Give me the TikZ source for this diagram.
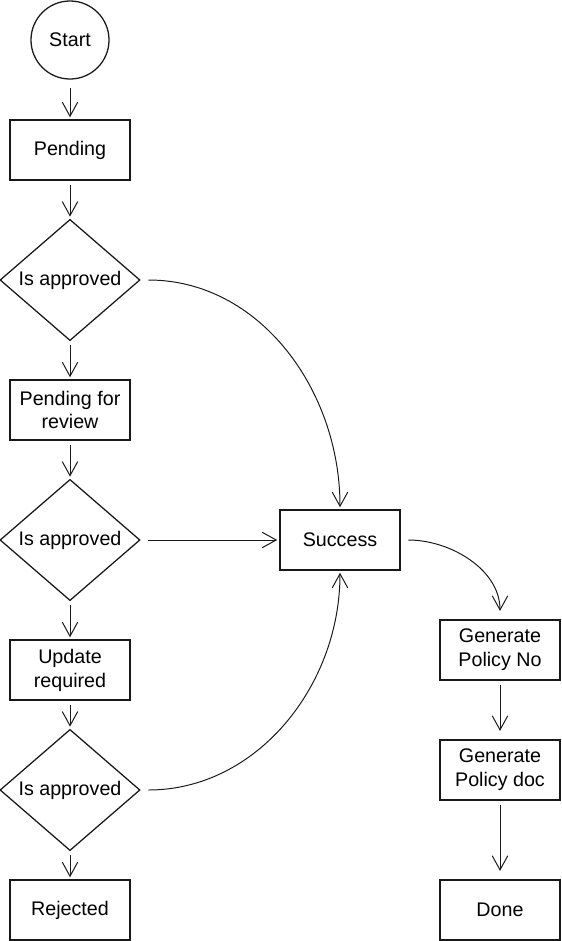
\documentclass[tikz,border=0pt]{standalone}
\usepackage{fontspec}
\setmainfont{Liberation Sans}
\usetikzlibrary{arrows.meta,shapes.geometric}
\tikzset{
  shape line/.style={draw=black!90, line width=0.9pt, font=\fontsize{14}{17}\selectfont, align=center},
  terminal/.style={shape line, circle, minimum size=1.95cm, inner sep=0pt},
  box/.style={shape line, rectangle, minimum width=3cm, minimum height=1.5cm, inner sep=2pt},
  decision/.style={shape line, diamond, minimum width=3.5cm, minimum height=3cm, inner sep=0pt},
  flow/.style={draw=black!90, line width=0.7pt, -{Straight Barb[length=10pt,width=11pt]}, shorten <=3pt, shorten >=1.5pt},
}

\begin{document}
\begin{tikzpicture}[x=0.025cm,y=-0.025cm]
			%%%%% START %%%%%
			\useasboundingbox (0,0) rectangle (561,941);
			
			\node[terminal] (start) at (70,40) {Start};
			\node[box] (pending) at (70,150) {Pending};
			\node[decision] (check1) at (70,280) {Is approved};
			\node[box] (review) at (70,410) {Pending for\\review};
			\node[decision] (check2) at (70,540) {Is approved};
			\node[box] (update) at (70,670) {Update\\required};
			\node[decision] (check3) at (70,790) {Is approved};
			\node[box] (rejected) at (70,910) {Rejected};
			
			\node[box] (success) at (340,540) {Success};
			\node[box] (policyno) at (500,650) {Generate\\Policy No};
			\node[box] (policydoc) at (500,770) {Generate\\Policy doc};
			\node[box] (done) at (500,910) {Done};
			
			% left column
			\draw[flow, shorten <=6pt] (start) -- (pending);
			\draw[flow] (pending) -- (check1);
			\draw[flow] (check1) -- (review);
			\draw[flow] (review) -- (check2);
			\draw[flow] (check2) -- (update);
			\draw[flow] (update) -- (check3);
			\draw[flow] (check3) -- (rejected);
			
			% into success
			\draw[flow, shorten <=5.5pt] (check1.east) to[out=0, in=90] (success.north);
			\draw[flow, shorten <=5.5pt] (check2.east) -- (success.west);
			\draw[flow, shorten <=5.5pt] (check3.east) to[out=0, in=-90] (success.south);
			
			% right column
			\draw[flow, shorten <=5.5pt, shorten >=6pt] (success.east) to[out=0, in=90] (policyno.north);
			\draw[flow, shorten >=6pt] (policyno) -- (policydoc);
			\draw[flow, shorten >=6pt] (policydoc) -- (done);
			
			%%%%% END %%%%%
\end{tikzpicture}
\end{document}
